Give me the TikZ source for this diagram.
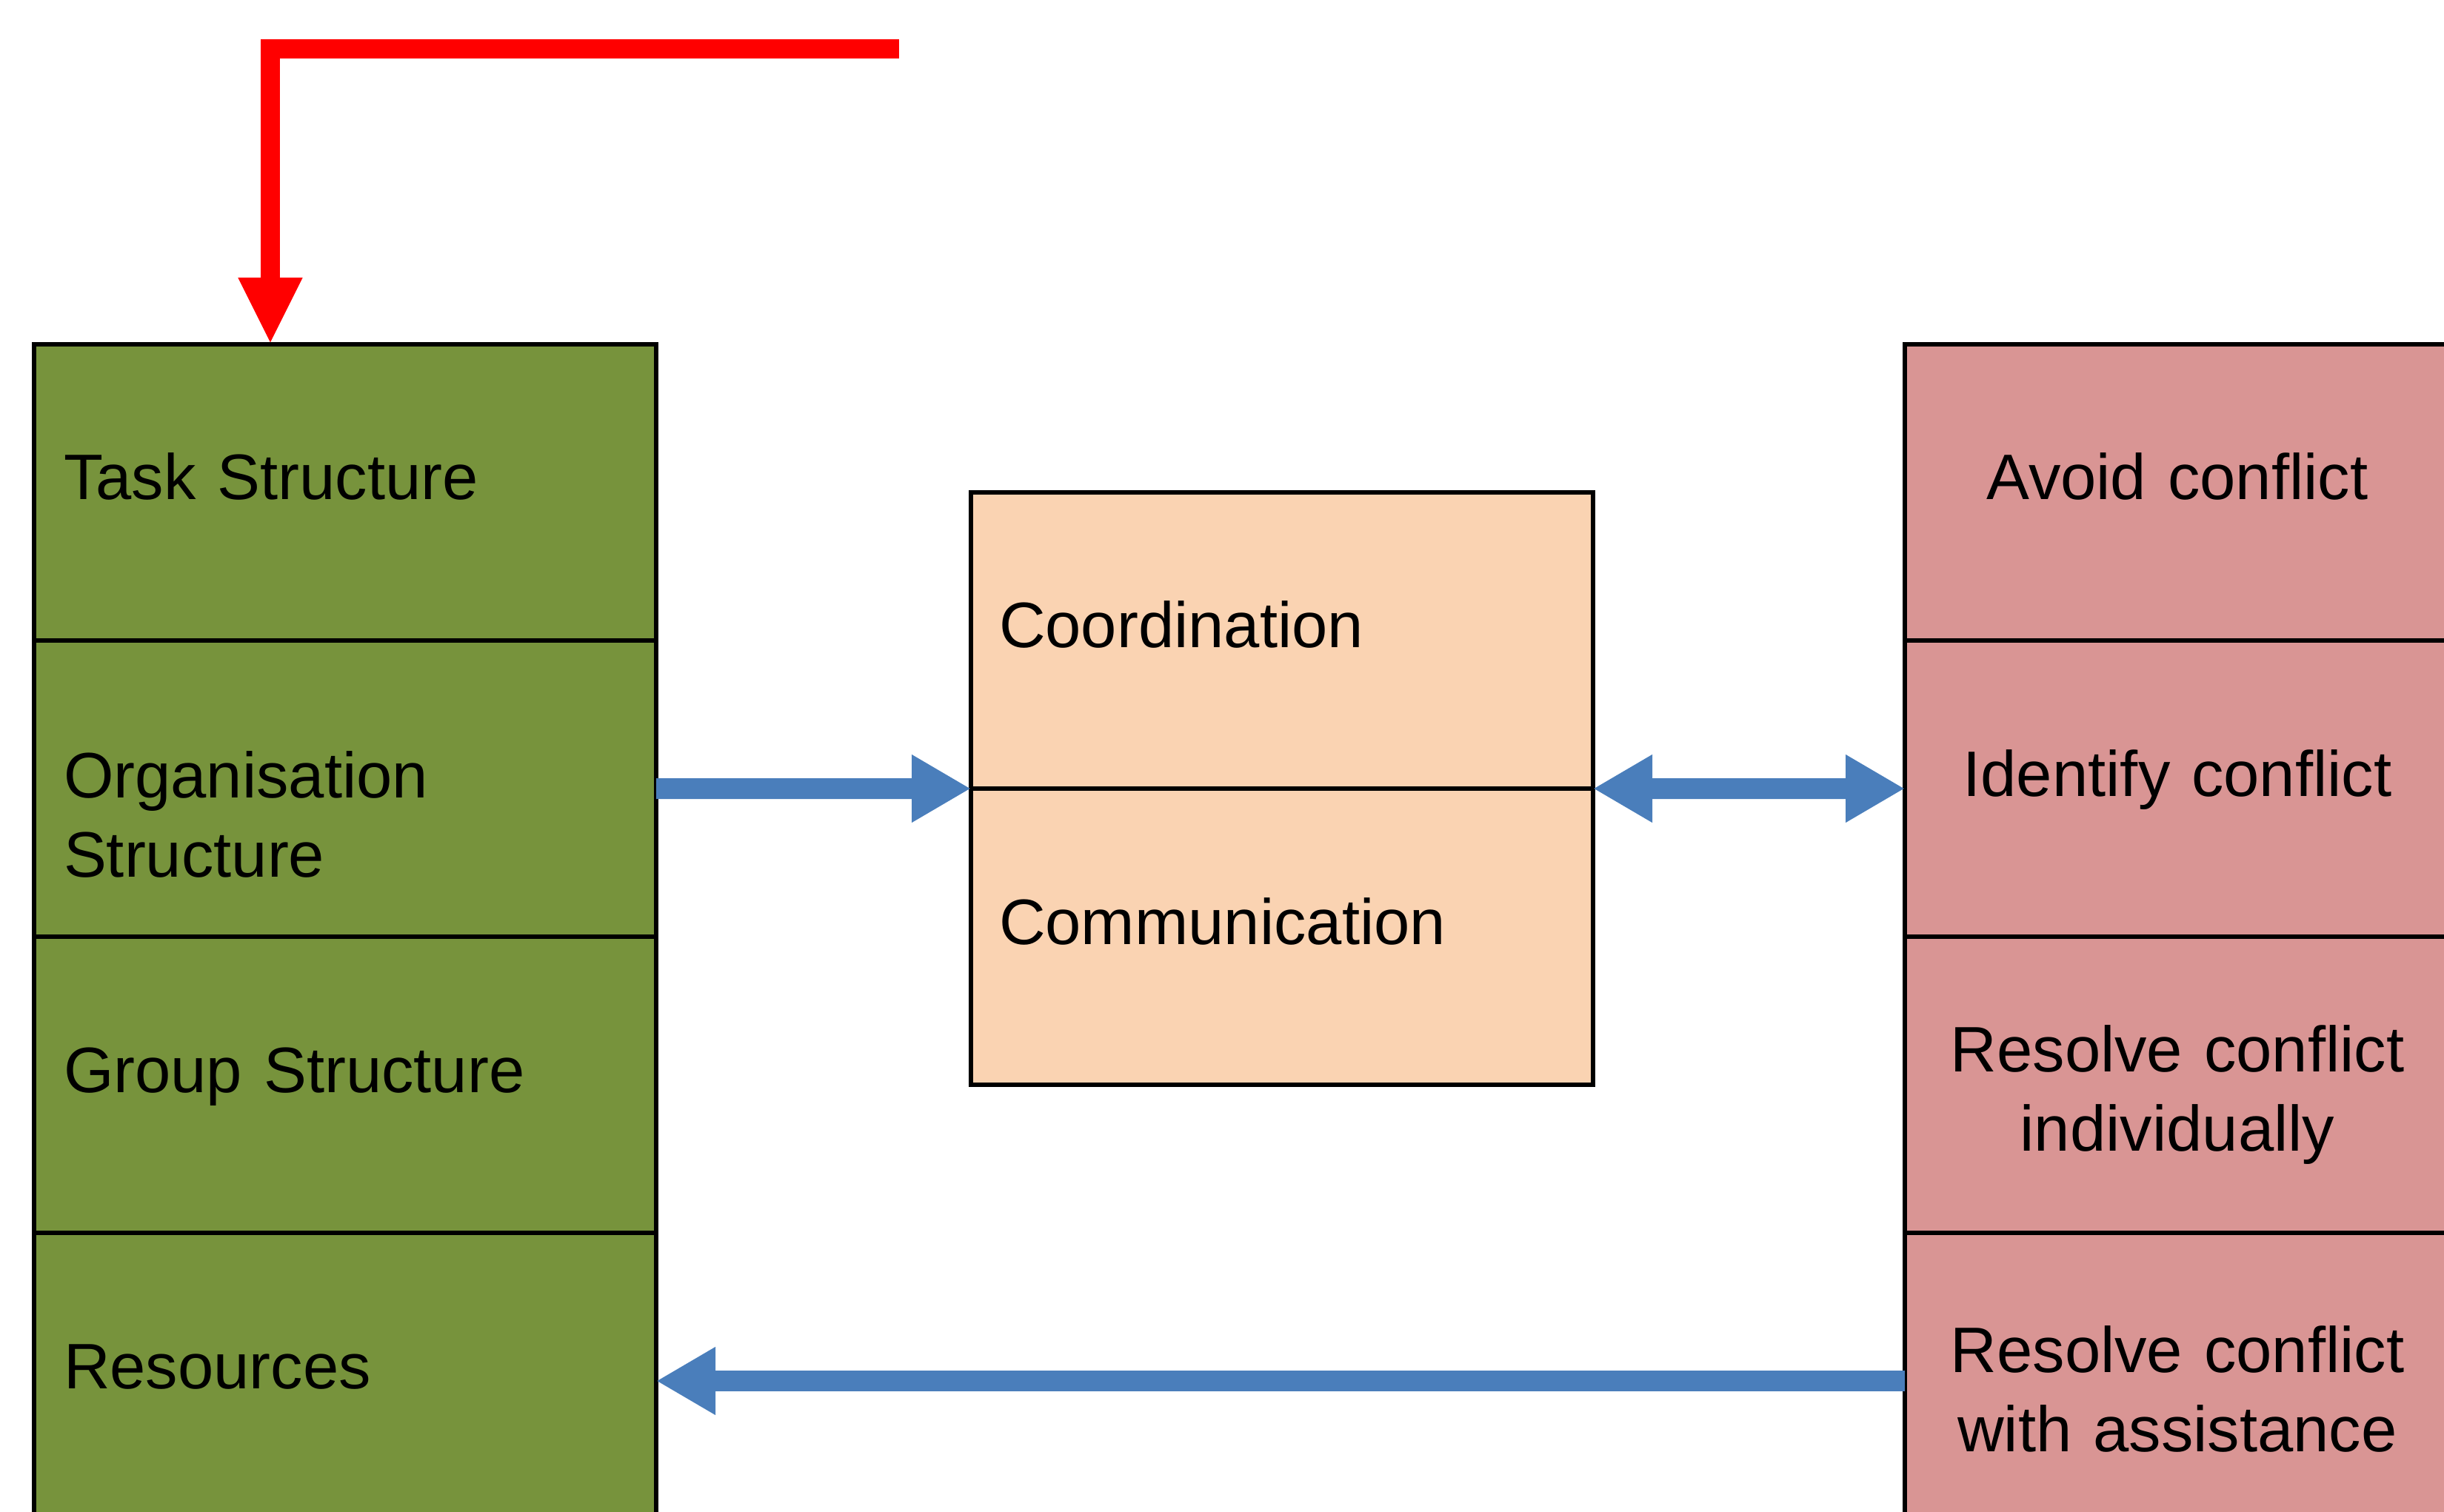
\documentclass[tikz,border=0pt]{standalone}
\usepackage{fontspec}
\setmainfont{Liberation Sans}
\usetikzlibrary{arrows.meta,positioning}
\definecolor{cellgreen}{RGB}{119,147,60}
\definecolor{cellpeach}{RGB}{250,211,178}
\definecolor{cellpink}{RGB}{217,149,148}
\definecolor{arrowblue}{RGB}{74,126,187}
\begin{document}
\begin{tikzpicture}[font=\fontsize{24.7}{30.5}\selectfont, node distance=0pt,
  cell/.style={draw, line width=0.65mm, outer sep=0pt, minimum height=4cm, inner ysep=0pt},
  greencell/.style={cell, fill=cellgreen, text width=7.6cm, inner xsep=0.4cm, align=left},
  peachcell/.style={cell, fill=cellpeach, text width=7.64cm, inner xsep=0.38cm, align=left},
  pinkcell/.style={cell, fill=cellpink, text width=6.5cm, inner xsep=0.43cm, align=center},
  oneline/.style={text height=6.3mm, text depth=4.3mm},
  twolines/.style={text height=#1, text depth=10.7mm},
  bluearrow/.style={arrowblue, line width=2.8mm, -{Triangle[length=8mm, width=8.6mm]}},
  redarrow/.style={red, line width=2.6mm, line join=miter, -{Triangle[length=9mm, width=8mm]}}]
\useasboundingbox (0,0) rectangle (33,-20.42);
% left column
\node[greencell, oneline, anchor=north west] (task) at (0.46,-4.65) {Task Structure};
\node[greencell, twolines=13.1mm, below=of task] (org) {Organisation\\Structure};
\node[greencell, oneline, below=of org] (group) {Group Structure};
\node[greencell, oneline, below=of group] (res) {Resources};
% middle
\node[peachcell, oneline, anchor=north west] (coord) at (13.11,-6.65) {Coordination};
\node[peachcell, oneline, below=of coord] (comm) {Communication};
% right column
\node[pinkcell, oneline, anchor=north west] (avoid) at (25.72,-4.65) {Avoid conflict};
\node[pinkcell, oneline, below=of avoid] (ident) {Identify conflict};
\node[pinkcell, twolines=7.1mm, below=of ident] (indiv) {Resolve conflict\\individually};
\node[pinkcell, twolines=8.3mm, below=of indiv] (assist) {Resolve conflict\\with assistance};
\coordinate (feed) at (12.14,-0.66);
\draw[redarrow] (feed) -| ([xshift=3.19cm]task.north west);
\draw[bluearrow] (org.east) -- (coord.south west);
\draw[bluearrow, {Triangle[length=8mm, width=8.6mm]}-{Triangle[length=8mm, width=8.6mm]}] (coord.south east) -- (ident.west);
\draw[bluearrow] (assist.west) -- (res.east);
\end{tikzpicture}
\end{document}
